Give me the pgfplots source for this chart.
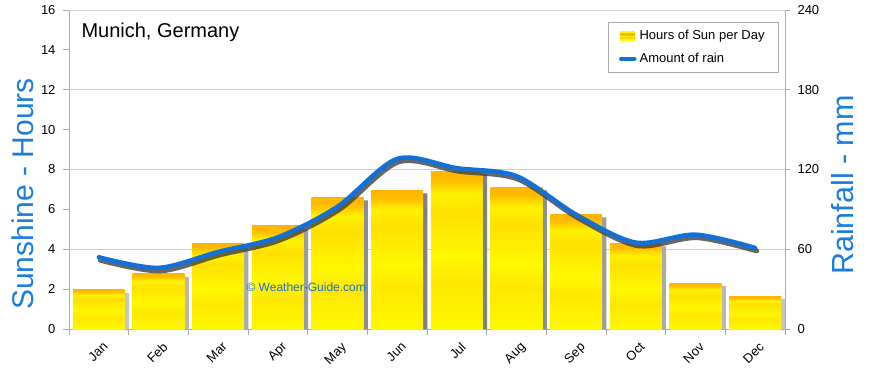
\documentclass[border=0pt]{standalone}
\usepackage{pgfplots}
\pgfplotsset{compat=1.18}
\usepackage{fontspec}
\setmainfont{Liberation Sans}
\definecolor{rainblue}{RGB}{18,112,214}
\definecolor{labelblue}{RGB}{28,124,222}
\definecolor{sunyellow}{RGB}{255,248,0}
\definecolor{sunorange}{RGB}{255,180,0}
\definecolor{gridgray}{RGB}{205,205,205}
\definecolor{axisgray}{RGB}{170,170,170}
\pgfdeclareverticalshading{sunshade}{100bp}{color(0bp)=(sunyellow); color(25bp)=(sunyellow); color(40bp)=(sunorange!25!sunyellow); color(48bp)=(sunyellow); color(62bp)=(sunorange!35!sunyellow); color(68bp)=(sunyellow!90!sunorange); color(72bp)=(sunorange!85!sunyellow); color(75bp)=(sunorange); color(100bp)=(sunorange)}
\newcommand{\tickfont}{\fontsize{13}{15}\selectfont}
\pgfplotstableread{
m sun shadow rain
0 2.0 1.80 54
1 2.8 2.60 46
2 4.3 4.05 58
3 5.2 5.00 69
4 6.6 6.45 92
5 6.95 6.80 128
6 7.9 7.75 121
7 7.1 6.95 115
8 5.75 5.60 86
9 4.3 4.15 65
10 2.3 2.15 71
11 1.65 1.50 61
}\datatable
\pgfplotsset{sunbar/.style={ybar, bar width=52pt, bar shift=0pt, draw=none, shade, shading=sunshade}}
\begin{document}
\begin{tikzpicture}[x=1pt,y=1pt]
\useasboundingbox (0,0) rectangle (870,368);
\begin{axis}[
  at={(69pt,39pt)}, anchor=south west,
  width=716pt, height=319pt, scale only axis,
  xmin=-0.5, xmax=11.5, ymin=0, ymax=16,
  axis y line*=left, axis x line*=bottom,
  axis line style={-, draw=axisgray},
  ytick={0,2,...,16},
  extra y ticks={4,8,12,16},
  extra y tick labels={},
  extra y tick style={ymajorgrids=true, major tick length=0pt},
  grid style={gridgray, line width=0.8pt},
  xtick={0,...,11},
  xticklabels={Jan,Feb,Mar,Apr,May,Jun,Jul,Aug,Sep,Oct,Nov,Dec},
  minor xtick={-0.5,0.5,...,11.5},
  tick align=outside,
  major tick length=6pt,
  minor tick length=6pt,
  major x tick style={draw=none},
  tick style={axisgray, line width=0.8pt},
  /pgf/number format/assume math mode=true,
  ticklabel style={font=\tickfont},
  xticklabel style={rotate=45, anchor=north east, inner sep=0pt, xshift=-2pt, yshift=-6.6pt},
  yticklabel style={xshift=-4pt},
]
\addplot[ybar, bar width=4.5pt, bar shift=28pt, draw=none, left color=gray!45, right color=gray!45, middle color=gray!95!black] table[x=m, y=shadow] {\datatable};
\addplot[sunbar] coordinates {(0,2.0)};
\addplot[sunbar] coordinates {(1,2.8)};
\addplot[sunbar] coordinates {(2,4.3)};
\addplot[sunbar] coordinates {(3,5.2)};
\addplot[sunbar] coordinates {(4,6.6)};
\addplot[sunbar] coordinates {(5,6.95)};
\addplot[sunbar] coordinates {(6,7.9)};
\addplot[sunbar] coordinates {(7,7.1)};
\addplot[sunbar] coordinates {(8,5.75)};
\addplot[sunbar] coordinates {(9,4.3)};
\addplot[sunbar] coordinates {(10,2.3)};
\addplot[sunbar] coordinates {(11,1.65)};
\end{axis}
\begin{axis}[
  at={(69pt,39pt)}, anchor=south west,
  width=716pt, height=319pt, scale only axis,
  xmin=-0.5, xmax=11.5, ymin=0, ymax=240,
  axis y line*=right, axis x line=none,
  axis line style={-, draw=axisgray},
  ytick={0,60,...,240},
  tick align=outside,
  major tick length=5pt,
  tick style={axisgray, line width=0.8pt},
  /pgf/number format/assume math mode=true,
  ticklabel style={font=\tickfont},
  yticklabel style={xshift=4pt},
  legend style={at={(0.9916,0.9624)}, anchor=north east, draw=axisgray, fill=white,
    font=\tickfont, inner xsep=11pt, inner ysep=6pt, row sep=8pt, line width=0.8pt,
    nodes={inner xsep=3pt}},
  legend cell align=left,
]
\addlegendimage{legend image code/.code={
  \fill[sunyellow] (0pt,-4.5pt) rectangle (14pt,4.5pt);
  \fill[sunorange] (0pt,0pt) rectangle (14pt,2.5pt);
  \fill[sunorange!60!sunyellow] (0pt,-3pt) rectangle (14pt,-1.5pt);}}
\addlegendentry{Hours of Sun per Day}
\addplot[smooth, line width=5pt, black!75, opacity=0.8, line cap=round, xshift=1.5pt, yshift=-3pt, forget plot] table[x=m, y=rain] {\datatable};
\addplot[smooth, line width=4.5pt, rainblue, line cap=round,
  legend image code/.code={\draw[rainblue, line width=3.5pt] (0pt,0pt) -- (14pt,0pt);}] table[x=m, y=rain] {\datatable};
\addlegendentry{Amount of rain}
\end{axis}
\node[anchor=base west, font=\fontsize{20}{24}\selectfont] at (78,331) {Munich, Germany};
\node[anchor=base west, font=\fontsize{12}{14}\selectfont, text=rainblue] at (243,77) {© Weather-Guide.com};
\node[rotate=90, anchor=base, font=\fontsize{30}{36}\selectfont, text=labelblue] at (33,174) {Sunshine - Hours};
\node[rotate=90, anchor=base, font=\fontsize{30.5}{36}\selectfont, text=labelblue] at (853,183) {Rainfall - mm};
\end{tikzpicture}
\end{document}
